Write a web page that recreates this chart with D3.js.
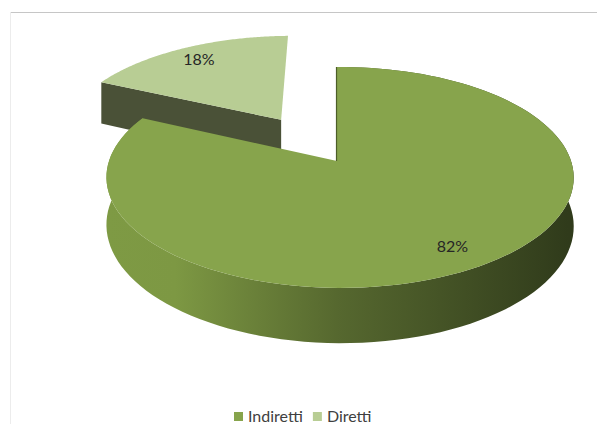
<!DOCTYPE html>
<html>
<head>
<meta charset="utf-8">
<script src="https://cdn.jsdelivr.net/npm/d3@7"></script>
<style>
  body { margin: 0; background: #fff; }
  svg { display: block; }
</style>
</head>
<body>
<script>
// data
var categories = ["Indiretti", "Diretti"];
var values = [82, 18];
var labels = ["82%", "18%"];
var explode = [0, 0.48];

var width = 597, height = 424;

// 3d pie geometry (perspective, tilted)
var CX = 337, CY = 161, RX = 231, RY = 108, DEPTH = 47, K = 0.149, KU = -0.013;

function proj(u, v, h) {
  var w = 1 + K * v + KU * u;
  return [CX + RX * u / w, CY + (-RY * v + DEPTH * h) / w];
}

var topColor = d3.scaleOrdinal().domain(categories).range(["#87a44c", "#b8cd94"]);
var sideColor = d3.scaleOrdinal().domain(categories).range(["url(#sideGrad)", "#4a5137"]);

var svg = d3.select("body").append("svg")
  .attr("width", width)
  .attr("height", height);

var defs = svg.append("defs");
var grad = defs.append("linearGradient")
  .attr("id", "sideGrad")
  .attr("gradientUnits", "userSpaceOnUse")
  .attr("x1", CX - RX).attr("x2", CX + RX)
  .attr("y1", 0).attr("y2", 0);
grad.append("stop").attr("offset", 0).attr("stop-color", "#7e9a44");
grad.append("stop").attr("offset", 0.15).attr("stop-color", "#7d9843");
grad.append("stop").attr("offset", 0.5).attr("stop-color", "#56682f");
grad.append("stop").attr("offset", 1).attr("stop-color", "#303b1b");

// chart frame
svg.append("line")
  .attr("x1", 10).attr("y1", 12.5).attr("x2", width).attr("y2", 12.5)
  .attr("stroke", "#c6c6c6").attr("stroke-width", 1);
svg.append("line")
  .attr("x1", 10.5).attr("y1", 12).attr("x2", 10.5).attr("y2", height)
  .attr("stroke", "#ececec").attr("stroke-width", 1);

var pie = d3.pie().sort(null).value(function(d) { return d; });
var arcs = pie(values);

var line = d3.line();

function ptsAlong(a0, a1, r, off, h) {
  var pts = [], n = 120;
  for (var i = 0; i <= n; i++) {
    var a = a0 + (a1 - a0) * i / n;
    pts.push(proj(r * Math.sin(a) + off[0], r * Math.cos(a) + off[1], h));
  }
  return pts;
}

function offsetOf(d, i) {
  var mid = (d.startAngle + d.endAngle) / 2;
  return [explode[i] * Math.sin(mid), explode[i] * Math.cos(mid)];
}

var g = svg.append("g");

// draw back slice (Diretti) first, then the big one in front
[1, 0].forEach(function(i) {
  var d = arcs[i];
  var off = offsetOf(d, i);
  var cat = categories[i];

  if (i === 1) {
    // radial face along start edge (facing viewer)
    var a = d.startAngle;
    var p1 = proj(off[0], off[1], 0),
        p2 = proj(Math.sin(a) + off[0], Math.cos(a) + off[1], 0),
        p3 = proj(Math.sin(a) + off[0], Math.cos(a) + off[1], 1),
        p4 = proj(off[0], off[1], 1);
    g.append("path")
      .attr("d", line([p1, p2, p3, p4]) + "Z")
      .attr("fill", sideColor(cat));
  } else {
    // outer curved side
    var topPts = ptsAlong(d.startAngle, d.endAngle, 1, off, 0);
    var botPts = ptsAlong(d.startAngle, d.endAngle, 1, off, 1).reverse();
    g.append("path")
      .attr("d", line(topPts.concat(botPts)) + "Z")
      .attr("fill", sideColor(cat));
  }

  // top face
  var face = [proj(off[0], off[1], 0)].concat(ptsAlong(d.startAngle, d.endAngle, 1, off, 0));
  g.append("path")
    .attr("d", line(face) + "Z")
    .attr("fill", topColor(cat));

  if (i === 0) {
    // thin edge at 12 o'clock cut
    var e0 = proj(0, 0, 0), e1 = proj(0, 1, 0);
    g.append("line")
      .attr("x1", e0[0] - 0.5).attr("y1", e0[1])
      .attr("x2", e1[0] - 0.5).attr("y2", e1[1])
      .attr("stroke", "#4d5e28").attr("stroke-width", 1.2);
  }
});

// data labels
var labelR = 0.83;
arcs.forEach(function(d, i) {
  var off = offsetOf(d, i);
  var mid = (d.startAngle + d.endAngle) / 2;
  var p = proj(labelR * Math.sin(mid) + off[0], labelR * Math.cos(mid) + off[1], 0);
  svg.append("text")
    .attr("x", p[0]).attr("y", p[1])
    .attr("text-anchor", "middle")
    .attr("dy", "0.35em")
    .style("font-family", "Lato, 'Open Sans', sans-serif")
    .style("font-size", "16px")
    .attr("fill", "#262626")
    .text(labels[i]);
});

// legend
var legend = svg.append("g").attr("transform", "translate(234,416)");
var lx = 0;
categories.forEach(function(c, i) {
  var item = legend.append("g").attr("transform", "translate(" + lx + ",0)");
  item.append("rect")
    .attr("x", 0).attr("y", -4).attr("width", 9).attr("height", 9)
    .attr("fill", topColor(c));
  var t = item.append("text")
    .attr("x", 14).attr("y", 0)
    .attr("dy", "0.35em")
    .style("font-family", "Lato, 'Open Sans', sans-serif")
    .style("font-size", "16px")
    .attr("fill", "#404040")
    .text(c);
  lx += 14 + t.node().getComputedTextLength() + 10;
});
</script>
</body>
</html>
